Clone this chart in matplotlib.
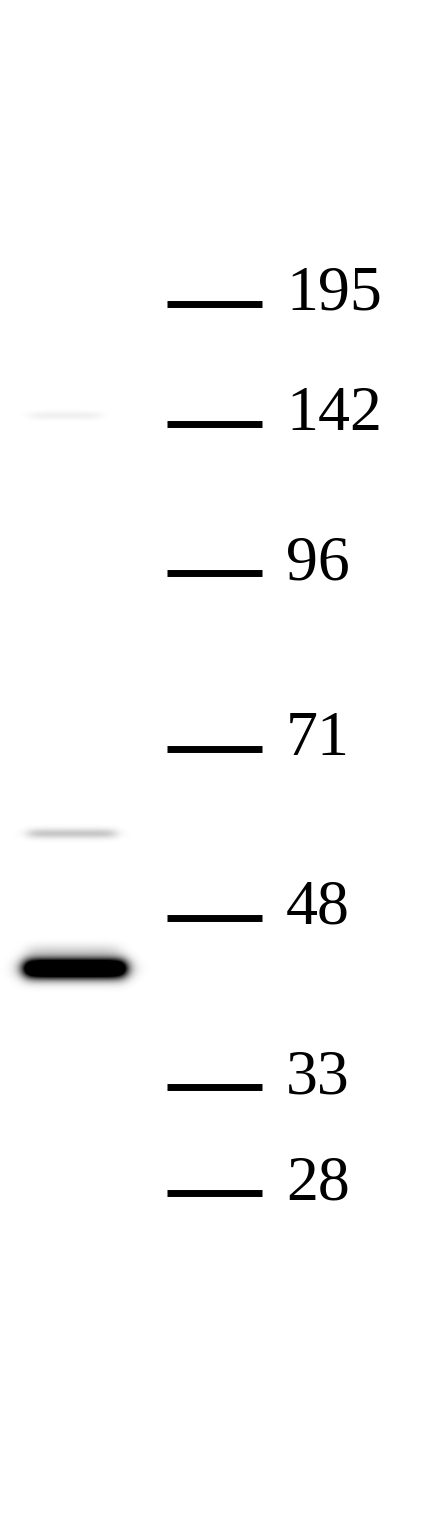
import matplotlib.pyplot as plt  # 绘图
import numpy as np  # 数值计算

# 分子量标记 (kDa) 及其在胶上的迁移位置 (像素)
marker_kda = [195, 142, 96, 71, 48, 33, 28]
marker_pos = [304, 424, 573, 749, 918, 1087, 1193]

# 样品泳道中的条带: 位置、强度、厚度、左右边界
band_pos = [415, 833, 950, 968]
band_strength = [0.06, 0.22, 0.12, 1.9]
band_sigma = [3.0, 3.5, 5.0, 7.0]
band_left = [30, 28, 28, 24]
band_right = [100, 115, 118, 125]

W, H = 446, 1520


def lane_image():
    """生成样品泳道的灰度图像"""
    xx = np.arange(W)[None, :]
    yy = np.arange(H)[:, None]
    dark = np.zeros((H, W))
    for p, s, sg, l, r in zip(band_pos, band_strength, band_sigma, band_left, band_right):
        px = 1 / (1 + np.exp(-(xx - l) / 4.0)) * 1 / (1 + np.exp((xx - r) / 4.0))
        py = np.exp(-0.5 * ((yy - p) / sg) ** 2)
        dark += s * px * py
    dark = np.clip(dark, 0, 1)
    return 1 - dark


fig = plt.figure(figsize=(4.46, 15.2), dpi=100)
ax = fig.add_axes([0, 0, 1, 1])
ax.imshow(lane_image(), cmap='gray', vmin=0, vmax=1, extent=[0, W, H, 0],
          interpolation='bilinear', aspect='auto')

# 标记线和数字
for kda, y in zip(marker_kda, marker_pos):
    ax.plot([167, 262], [y, y], color='black', lw=5, solid_capstyle='butt')
    ax.text(286, y + 6, str(kda), fontsize=46, family='Liberation Serif',
            ha='left', va='baseline', color='black')

ax.set_xlim(0, W)
ax.set_ylim(H, 0)
ax.axis('off')
fig.savefig('out.png', dpi=100)
